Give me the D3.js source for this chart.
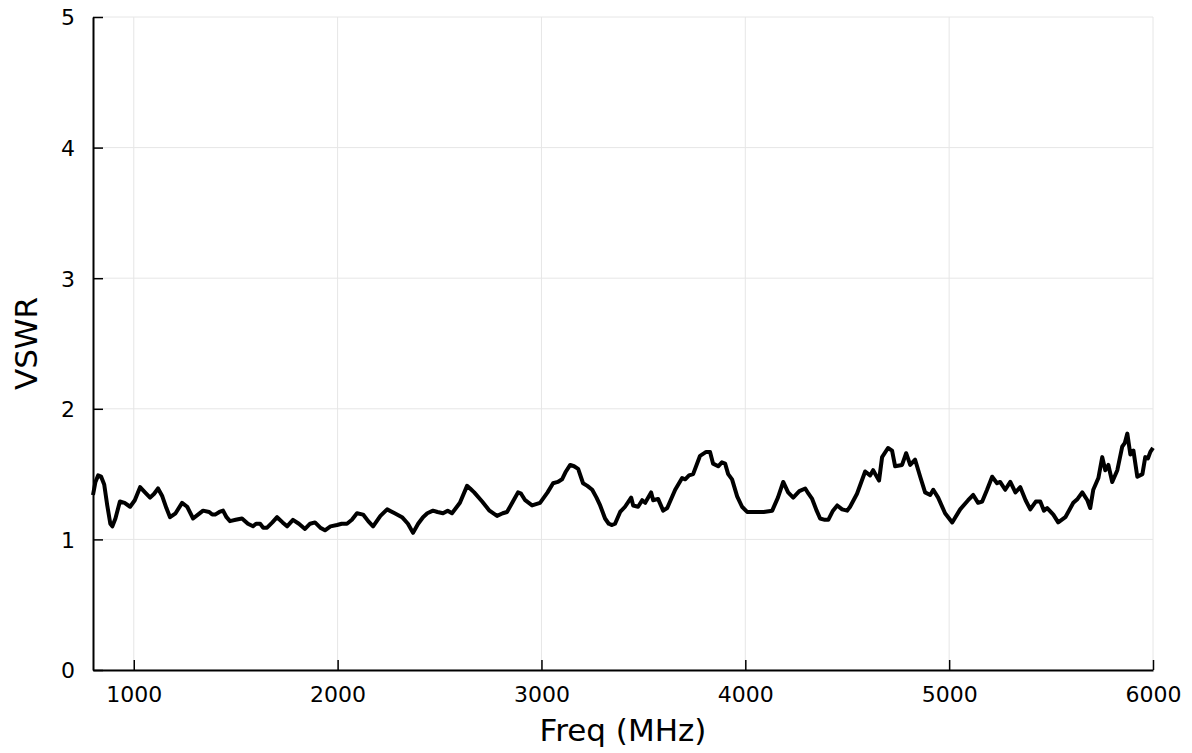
<!DOCTYPE html>
<html>
<head>
<meta charset="utf-8">
<script src="https://cdn.jsdelivr.net/npm/d3@7"></script>
<style>
  body { margin: 0; background: #fff; }
  text { font-family: "DejaVu Sans", sans-serif; fill: #000; }
</style>
</head>
<body>
<svg id="chart" width="1192" height="753"></svg>
<script>
// frequency (MHz) and VSWR
var freq = [800, 812, 825, 840, 855, 870, 885, 895, 910, 932, 955, 982, 1005, 1031, 1055, 1080, 1100, 1119, 1140, 1160,
  1178, 1205, 1237, 1262, 1291, 1315, 1340, 1370, 1385, 1399, 1420, 1438, 1455, 1472, 1500, 1531, 1560, 1585, 1600, 1620,
  1635, 1654, 1680, 1703, 1730, 1752, 1781, 1810, 1840, 1865, 1889, 1915, 1938, 1965, 1997, 2020, 2046, 2070, 2095, 2125,
  2150, 2174, 2210, 2243, 2280, 2316, 2345, 2370, 2395, 2419, 2440, 2468, 2490, 2517, 2540, 2561, 2600, 2635, 2650, 2670,
  2709, 2745, 2782, 2810, 2831, 2860, 2885, 2900, 2920, 2954, 2993, 3030, 3057, 3080, 3101, 3120, 3141, 3160, 3180, 3204,
  3225, 3249, 3270, 3288, 3312, 3330, 3346, 3361, 3386, 3410, 3440, 3450, 3474, 3494, 3509, 3538, 3548, 3572, 3597, 3617,
  3656, 3690, 3705, 3724, 3744, 3778, 3808, 3827, 3842, 3867, 3885, 3901, 3916, 3935, 3960, 3984, 4009, 4038, 4090, 4132,
  4160, 4186, 4210, 4235, 4265, 4294, 4310, 4328, 4350, 4367, 4390, 4407, 4430, 4451, 4475, 4500, 4514, 4548, 4588, 4612,
  4627, 4656, 4671, 4700, 4720, 4735, 4769, 4789, 4809, 4833, 4858, 4882, 4907, 4922, 4946, 4980, 5015, 5054, 5093, 5118,
  5142, 5162, 5186, 5211, 5235, 5250, 5275, 5300, 5325, 5349, 5375, 5398, 5425, 5447, 5465, 5481, 5511, 5535, 5570, 5609,
  5630, 5653, 5678, 5692, 5707, 5732, 5751, 5766, 5781, 5800, 5825, 5849, 5862, 5874, 5889, 5904, 5923, 5948, 5962, 5975,
  5987, 6000];
var vswr = [1.34, 1.44, 1.49, 1.48, 1.42, 1.26, 1.12, 1.10, 1.16, 1.29, 1.28, 1.25, 1.30, 1.40, 1.36, 1.32, 1.35, 1.39, 1.33, 1.24,
  1.17, 1.20, 1.28, 1.25, 1.16, 1.19, 1.22, 1.21, 1.19, 1.19, 1.21, 1.22, 1.17, 1.14, 1.15, 1.16, 1.12, 1.10, 1.12, 1.12,
  1.09, 1.09, 1.13, 1.17, 1.13, 1.10, 1.15, 1.12, 1.08, 1.12, 1.13, 1.09, 1.07, 1.10, 1.11, 1.12, 1.12, 1.15, 1.20, 1.19,
  1.14, 1.10, 1.18, 1.23, 1.20, 1.17, 1.12, 1.05, 1.12, 1.17, 1.20, 1.22, 1.21, 1.20, 1.22, 1.20, 1.28, 1.41, 1.39, 1.36,
  1.29, 1.22, 1.18, 1.20, 1.21, 1.29, 1.36, 1.35, 1.30, 1.26, 1.28, 1.36, 1.43, 1.44, 1.46, 1.52, 1.57, 1.56, 1.54, 1.43,
  1.41, 1.38, 1.32, 1.26, 1.16, 1.12, 1.11, 1.12, 1.21, 1.25, 1.32, 1.26, 1.25, 1.30, 1.28, 1.36, 1.30, 1.31, 1.22, 1.24,
  1.38, 1.47, 1.46, 1.49, 1.50, 1.64, 1.67, 1.67, 1.58, 1.56, 1.59, 1.58, 1.50, 1.46, 1.33, 1.25, 1.21, 1.21, 1.21, 1.22,
  1.32, 1.44, 1.36, 1.32, 1.37, 1.39, 1.35, 1.31, 1.22, 1.16, 1.15, 1.15, 1.22, 1.26, 1.23, 1.22, 1.25, 1.35, 1.52, 1.49,
  1.53, 1.45, 1.63, 1.70, 1.68, 1.56, 1.57, 1.66, 1.57, 1.61, 1.48, 1.36, 1.34, 1.38, 1.32, 1.20, 1.13, 1.23, 1.30, 1.34,
  1.28, 1.29, 1.38, 1.48, 1.43, 1.44, 1.38, 1.44, 1.36, 1.40, 1.30, 1.23, 1.29, 1.29, 1.22, 1.24, 1.19, 1.13, 1.17, 1.28,
  1.31, 1.36, 1.30, 1.24, 1.38, 1.47, 1.63, 1.53, 1.57, 1.44, 1.53, 1.71, 1.74, 1.81, 1.65, 1.68, 1.48, 1.50, 1.63, 1.62,
  1.67, 1.70];
var xTicks = [1000, 2000, 3000, 4000, 5000, 6000];
var yTicks = [0, 1, 2, 3, 4, 5];

var svg = d3.select("#chart");
var margin = {left: 93, right: 1153, top: 17, bottom: 670};

var x = d3.scaleLinear().domain([800, 6000]).range([margin.left, margin.right]);
var y = d3.scaleLinear().domain([0, 5]).range([margin.bottom, margin.top]);

// grid
svg.append("g").selectAll("line").data(xTicks).join("line")
  .attr("x1", d => x(d)).attr("x2", d => x(d))
  .attr("y1", margin.top).attr("y2", margin.bottom)
  .attr("stroke", "#e6e6e6").attr("stroke-width", 1);
svg.append("g").selectAll("line").data(yTicks).join("line")
  .attr("x1", margin.left).attr("x2", margin.right)
  .attr("y1", d => y(d)).attr("y2", d => y(d))
  .attr("stroke", "#e6e6e6").attr("stroke-width", 1);

// axes with inward ticks
var xAxis = svg.append("g")
  .attr("transform", "translate(0," + margin.bottom + ")")
  .call(d3.axisBottom(x).tickValues(xTicks).tickFormat(d3.format("d")).tickSizeInner(-10).tickSizeOuter(0));
var yAxis = svg.append("g")
  .attr("transform", "translate(" + margin.left + ",0)")
  .call(d3.axisLeft(y).tickValues(yTicks).tickFormat(d3.format("d")).tickSizeInner(-10).tickSizeOuter(0));

[xAxis, yAxis].forEach(function(a) {
  a.select(".domain").attr("stroke", "#000").attr("stroke-width", 2);
  a.selectAll(".tick line").attr("stroke", "#000").attr("stroke-width", 1.5);
  a.selectAll(".tick text").style("font-size", "22px").style("font-family", "DejaVu Sans");
});
xAxis.selectAll(".tick text").attr("y", 32).attr("dy", 0);
yAxis.selectAll(".tick text").attr("x", -18).attr("dy", "0.36em");

// line
var line = d3.line().x((d, i) => x(freq[i])).y(d => y(d));
svg.append("path")
  .datum(vswr)
  .attr("d", line)
  .attr("fill", "none")
  .attr("stroke", "#000")
  .attr("stroke-width", 4)
  .attr("stroke-linejoin", "round");

// titles
svg.append("text")
  .attr("x", (margin.left + margin.right) / 2).attr("y", 741)
  .attr("text-anchor", "middle")
  .style("font-size", "31px")
  .text("Freq (MHz)");
svg.append("text")
  .attr("transform", "translate(37," + ((margin.top + margin.bottom) / 2) + ") rotate(-90)")
  .attr("text-anchor", "middle")
  .style("font-size", "31px")
  .text("VSWR");
</script>
</body>
</html>
